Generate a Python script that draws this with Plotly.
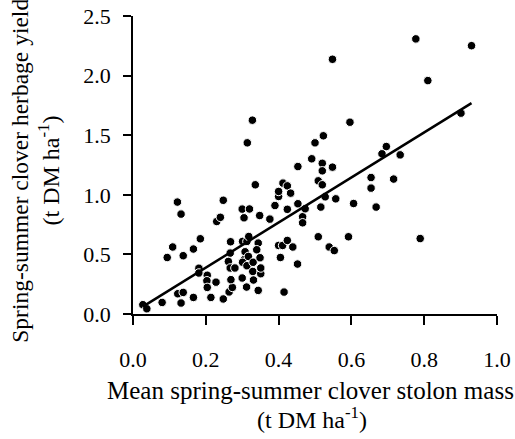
import plotly.graph_objects as go

# Mean spring-summer clover stolon mass (t DM/ha)
stolon_mass = [
    0.027, 0.038, 0.080, 0.122, 0.132, 0.094, 0.109, 0.138, 0.123, 0.138,
    0.132, 0.166, 0.185, 0.166, 0.181, 0.181, 0.204, 0.203, 0.204, 0.228,
    0.214, 0.230, 0.240, 0.248, 0.248, 0.264, 0.273, 0.269, 0.267, 0.268,
    0.262, 0.267, 0.280, 0.300, 0.320, 0.305, 0.301, 0.313, 0.318, 0.308,
    0.305, 0.300, 0.301, 0.317, 0.313, 0.330, 0.329, 0.331, 0.312, 0.336,
    0.348, 0.344, 0.340, 0.349, 0.351, 0.351, 0.344, 0.328, 0.314, 0.376,
    0.390, 0.400, 0.400, 0.412, 0.424, 0.433, 0.424, 0.400, 0.411, 0.424,
    0.439, 0.405, 0.415, 0.452, 0.453, 0.466, 0.466, 0.473, 0.453, 0.491,
    0.520, 0.548, 0.520, 0.509, 0.520, 0.654, 0.716, 0.654, 0.528, 0.557,
    0.606, 0.516, 0.668, 0.509, 0.592, 0.539, 0.553, 0.789, 0.523, 0.500,
    0.548, 0.596, 0.696, 0.684, 0.734, 0.777, 0.930, 0.810, 0.901,
]

# Spring-summer clover herbage yield (t DM/ha)
herbage_yield = [
    0.078, 0.044, 0.097, 0.939, 0.838, 0.474, 0.562, 0.489, 0.170, 0.181,
    0.092, 0.545, 0.631, 0.139, 0.384, 0.344, 0.325, 0.279, 0.223, 0.267,
    0.139, 0.776, 0.811, 0.954, 0.126, 0.185, 0.223, 0.288, 0.511, 0.606,
    0.441, 0.386, 0.386, 0.880, 0.881, 0.807, 0.609, 0.609, 0.650, 0.522,
    0.455, 0.302, 0.434, 0.483, 0.405, 0.434, 0.357, 0.285, 0.226, 1.084,
    0.826, 0.595, 0.539, 0.472, 0.338, 0.386, 0.198, 1.626, 1.436, 0.796,
    0.910, 0.986, 1.028, 1.098, 1.075, 1.014, 0.878, 0.575, 0.575, 0.617,
    0.562, 0.474, 0.184, 0.419, 0.925, 0.816, 0.765, 0.883, 1.237, 1.302,
    1.264, 1.232, 1.201, 1.117, 1.084, 1.145, 1.132, 1.056, 0.983, 0.966,
    0.927, 0.897, 0.897, 0.648, 0.648, 0.562, 0.532, 0.633, 1.495, 1.436,
    2.137, 1.609, 1.405, 1.344, 1.335, 2.308, 2.251, 1.958, 1.685,
]

# Fitted regression line
fit_intercept = 0.011
fit_slope = 1.89

x_ticks = [0.0, 0.2, 0.4, 0.6, 0.8, 1.0]
x_ticklabels = ["0.0", "0.2", "0.4", "0.6", "0.8", "1.0"]
y_ticks = [0.0, 0.5, 1.0, 1.5, 2.0, 2.5]
y_ticklabels = ["0.0", "0.5", "1.0", "1.5", "2.0", "2.5"]

x_title = ["Mean spring-summer clover stolon mass", "(t DM ha<sup>-1</sup>)"]
y_title = ["Spring-summer clover herbage yield", "(t DM ha<sup>-1</sup>)"]

FONT = "Liberation Serif"

line_x = [min(stolon_mass), max(stolon_mass)]
line_y = [fit_intercept + fit_slope * v for v in line_x]

fig = go.Figure()
fig.add_trace(go.Scatter(
    x=stolon_mass, y=herbage_yield, mode="markers",
    marker=dict(color="black", size=8.5, line=dict(color="white", width=1)),
    cliponaxis=False, showlegend=False,
))
fig.add_trace(go.Scatter(
    x=line_x, y=line_y, mode="lines",
    line=dict(color="black", width=2.5),
    cliponaxis=False, showlegend=False,
))

axis_common = dict(
    showgrid=False, zeroline=False, showline=True, linecolor="black",
    linewidth=1.5, ticks="outside", tickcolor="black", tickwidth=1.5,
    automargin=False,
    tickfont=dict(family=FONT, size=22, color="black"),
)

fig.update_xaxes(range=[0, 1.0], tickvals=x_ticks, ticktext=x_ticklabels,
                 ticklen=9, ticklabelstandoff=16, **axis_common)
fig.update_yaxes(range=[0, 2.5], tickvals=y_ticks, ticktext=y_ticklabels,
                 ticklen=8, ticklabelstandoff=8, **axis_common)

annotations = [
    dict(text=x_title[0], x=0.489, y=-0.256, size=25),
    dict(text=x_title[1], x=0.492, y=-0.350, size=24),
    dict(text=y_title[0], x=-0.311, y=0.480, textangle=-90, size=23.5),
    dict(text=y_title[1], x=-0.232, y=0.480, textangle=-90, size=24),
]
for a in annotations:
    size = a.pop("size")
    fig.add_annotation(xref="paper", yref="paper", showarrow=False,
                       xanchor="center", yanchor="middle",
                       font=dict(family=FONT, size=size, color="black"), **a)

fig.update_layout(
    width=515, height=439,
    margin=dict(l=133, r=18.3, t=16, b=124.7, autoexpand=False),
    paper_bgcolor="white", plot_bgcolor="white",
    font=dict(family=FONT),
)

fig.write_html("out.html",
               config={"displayModeBar": False},
               post_script="document.body.style.margin='0';document.body.style.overflow='hidden';")
